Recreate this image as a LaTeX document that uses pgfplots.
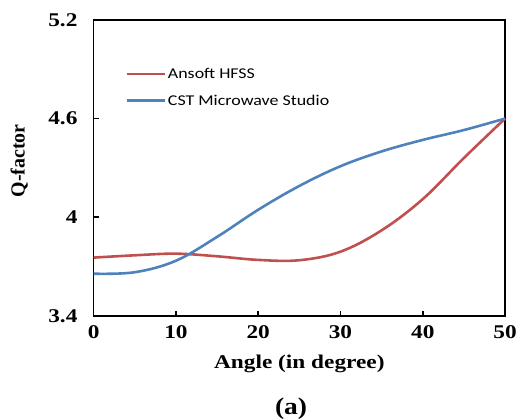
\documentclass[border=0pt]{standalone}
\usepackage{graphicx}
\usepackage{fontspec}
\setmainfont{Liberation Serif}
\newfontfamily\legfont{Carlito}
\usepackage{pgfplots}
\pgfplotsset{compat=1.18}
\definecolor{exred}{RGB}{192,80,77}
\definecolor{exblue}{RGB}{79,129,189}
\begin{document}
\begin{tikzpicture}
\path[use as bounding box] (-94pt,-104pt) rectangle (428pt,317pt);
\begin{axis}[
  at={(0,0)}, anchor=south west,
  scale only axis, width=413pt, height=297pt,
  xmin=0, xmax=50, ymin=3.4, ymax=5.2,
  xtick={0,10,20,30,40,50}, ytick={3.4,4,4.6,5.2},
  yticklabels={3.4,4,4.6,5.2},
  tick align=inside, xtick pos=bottom, ytick pos=left,
  major tick length=5pt,
  tick style={black, line width=1.5pt},
  axis line style={black, line width=1.6pt},
  /pgf/number format/assume math mode=true,
  tick label style={font=\fontsize{19.5}{22}\selectfont\bfseries, xscale=1.2},
  xticklabel style={yshift=-6pt},
  yticklabel style={xshift=-10pt},
  xlabel={\scalebox{1.2}[1]{\fontsize{19.5}{22}\selectfont\bfseries Angle (in degree)}},
  ylabel={\fontsize{20}{23}\selectfont\bfseries Q-factor},
  xlabel style={at={(0.5,0)}, yshift=-36pt, anchor=north},
  ylabel style={at={(axis description cs:-0.181,0.524)}, anchor=center},
  legend style={draw=none, fill=none, at={(0.077,0.845)}, anchor=north west,
    font=\fontsize{15}{18}\selectfont\legfont, row sep=11pt, inner sep=0pt,
    cells={anchor=west}},
  legend image code/.code={\draw[#1, line width=2.6pt] (0pt,0pt) -- (38pt,0pt);},
  clip=false,
]
\addplot[exred, line width=2.6pt, smooth, tension=0.6] coordinates {
 (0,3.754)(5,3.768)(10,3.778)(15,3.762)(20,3.740)(25,3.738)(30,3.79)(35,3.92)(40,4.11)(45,4.36)(50,4.6)};
\addlegendentry{\scalebox{1.2}[1]{Ansoft HFSS}}
\addplot[exblue, line width=2.6pt, smooth, tension=0.6] coordinates {
 (0,3.656)(5,3.665)(10,3.735)(15,3.88)(20,4.045)(25,4.19)(30,4.31)(35,4.40)(40,4.47)(45,4.53)(50,4.6)};
\addlegendentry{\scalebox{1.2}[1]{CST Microwave Studio}}
\node[anchor=center, font=\fontsize{24}{28}\selectfont\bfseries, xscale=1.15] at (rel axis cs:0.48,0) [yshift=-93pt] {(a)};
\end{axis}
\end{tikzpicture}
\end{document}
